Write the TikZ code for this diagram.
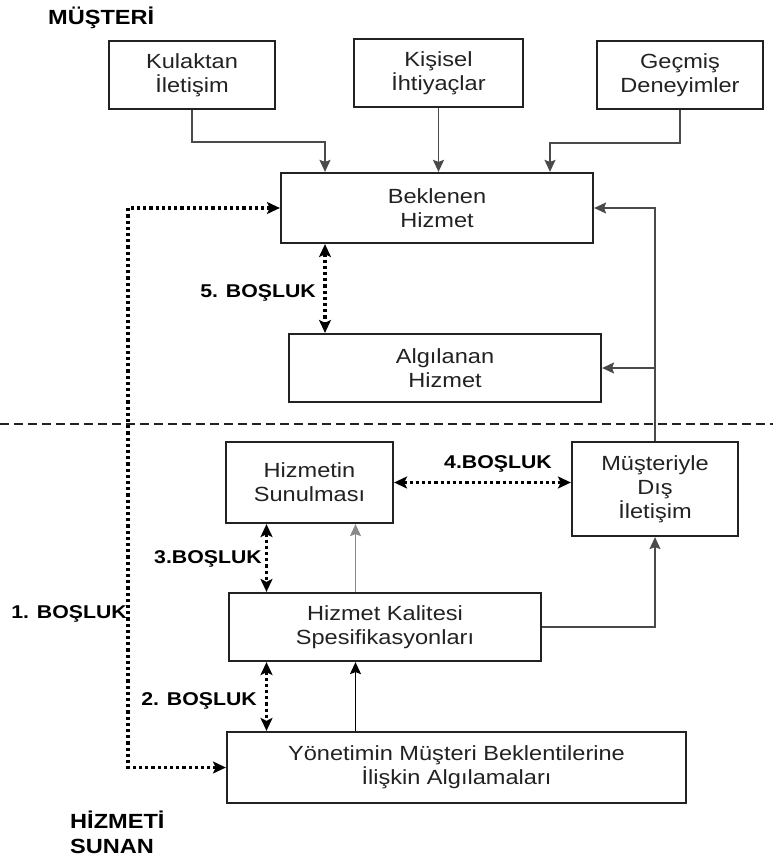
\documentclass[tikz,border=0pt]{standalone}
\usepackage{fontspec}
\setmainfont{Liberation Sans}[FakeStretch=1.15]
\usetikzlibrary{arrows.meta}
\definecolor{kutucizgi}{HTML}{222222}
\definecolor{baglanticizgi}{HTML}{4A4A4A}
\definecolor{acikcizgi}{HTML}{8A8A8A}
\tikzset{
  kutu/.style={draw=kutucizgi, line width=2.2pt, minimum height=68pt, align=center,
               inner sep=0pt, text=kutucizgi, font=\fontsize{20.5}{24}\selectfont},
  baglanti/.style={draw=baglanticizgi, line width=1.7pt,
                   -{Stealth[length=12pt,width=11pt,inset=2pt]}},
  bosluk/.style={draw=black, line width=3.2pt, dash pattern=on 3.2pt off 3pt,
                 {Stealth[length=13pt,width=12pt,inset=3pt]}-{Stealth[length=13pt,width=12pt,inset=3pt]}},
  etiket/.style={font=\bfseries\fontsize{18.5}{22}\selectfont, inner sep=0pt, anchor=base east},
  baslik/.style={font=\bfseries\fontsize{20.5}{25}\selectfont, inner sep=0pt, align=left},
}

\begin{document}
\begin{tikzpicture}[x=1pt, y=-1pt]
    \useasboundingbox (0,0) rectangle (773,859);
    % musteri tarafi
    \node[baslik, anchor=base west] (musteri) at (48,25) {MÜŞTERİ};
    \node[kutu, minimum width=166pt] (kulak) at (192,75) {Kulaktan\\İletişim};
    \node[kutu, minimum width=169pt] (kisisel) at (438.5,73) {Kişisel\\İhtiyaçlar};
    \node[kutu, minimum width=166pt] (gecmis) at (680,75) {Geçmiş\\Deneyimler};
    \node[kutu, minimum width=312pt, minimum height=70pt] (beklenen) at (437,208) {Beklenen\\Hizmet};
    \node[kutu, minimum width=312pt] (algilanan) at (445,368) {Algılanan\\Hizmet};
    % hizmeti sunan taraf
    \node[kutu, minimum width=167pt, minimum height=81pt] (sunum) at (309.5,482.5) {Hizmetin\\Sunulması};
    \node[kutu, minimum width=166pt, minimum height=94pt] (disiletisim) at (655,489) {Müşteriyle\\Dış\\İletişim};
    \node[kutu, minimum width=312pt] (kalite) at (385,627) {Hizmet Kalitesi\\Spesifikasyonları};
    \node[kutu, minimum width=459pt, minimum height=71pt] (yonetim) at (456.5,767.5) {Yönetimin Müşteri Beklentilerine\\İlişkin Algılamaları};
    \node[baslik, anchor=north west] (sunan) at (70,811) {HİZMETİ\\SUNAN};

    % ayirici cizgi
    \coordinate (solkenar) at (0,424);
    \coordinate (sagkenar) at (773,424);
    \draw[dashed, line width=1.6pt, dash pattern=on 9pt off 5pt, draw=kutucizgi] (solkenar) -- (sagkenar);

    % beklenen hizmete gelenler
    \coordinate (kk) at (325,142);
    \coordinate (gk) at (550,143);
    \draw[baglanti] (kulak.south) |- (kk) -- (kk |- beklenen.north);
    \draw[baglanti] (kisisel.south) -- (kisisel.south |- beklenen.north);
    \draw[baglanti] (gecmis.south) |- (gk) -- (gk |- beklenen.north);
    \draw[baglanti] (disiletisim.north) -- (disiletisim.north |- beklenen.east) -- (beklenen.east);
    \draw[baglanti] (disiletisim.north |- algilanan.east) -- (algilanan.east);

    % alt kisim
    \coordinate (orta) at (355.5,0);
    \draw[baglanti, draw=acikcizgi] (kalite.north -| orta) -- (sunum.south -| orta);
    \draw[baglanti, draw=black] (yonetim.north -| orta) -- (kalite.south -| orta);
    \draw[baglanti] (kalite.east) -| (disiletisim.south);

    % bosluklar
    \coordinate (b1) at (128,0);
    \coordinate (b23) at (266.5,0);
    \coordinate (b5) at (325,0);
    \draw[bosluk] (beklenen.south -| b5) -- (algilanan.north -| b5);
    \draw[bosluk] (sunum.east) -- (sunum.east -| disiletisim.west);
    \draw[bosluk] (sunum.south -| b23) -- (kalite.north -| b23);
    \draw[bosluk] (kalite.south -| b23) -- (yonetim.north -| b23);
    \draw[bosluk] (yonetim.west) -- (yonetim.west -| b1) -- (beklenen.west -| b1) -- (beklenen.west);
    \node[etiket] (l5) at (316,297) {5. BOŞLUK};
    \node[etiket, anchor=base] (l4) at (498,468) {4.BOŞLUK};
    \node[etiket] (l3) at (262,563) {3.BOŞLUK};
    \node[etiket] (l2) at (257,705) {2. BOŞLUK};
    \node[etiket] (l1) at (127,618) {1. BOŞLUK};
\end{tikzpicture}
\end{document}
